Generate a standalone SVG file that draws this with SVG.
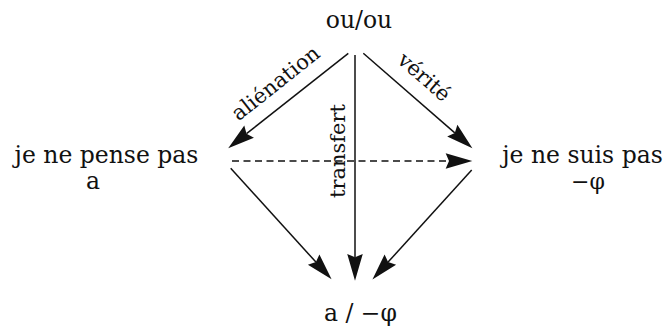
<svg xmlns="http://www.w3.org/2000/svg" width="669" height="329" viewBox="0 0 669 329">
<style>
  .node { font-family: "DejaVu Serif", "Liberation Serif", serif; font-size: 23.5px; fill: #111; text-anchor: middle; }
  .phi { font-size: 22px; }
  .lbl { font-family: "DejaVu Serif", "Liberation Serif", serif; font-size: 21px; fill: #111; text-anchor: middle; }
  .edge { stroke: #111; stroke-width: 1.5; fill: none; marker-end: url(#ah); }
  .dash { stroke-dasharray: 7 4.5; }
</style>
<defs>
  <marker id="ah" markerUnits="userSpaceOnUse" markerWidth="30" markerHeight="20" refX="3" refY="0" orient="auto" viewBox="-1 -8 27 16" overflow="visible">
    <path d="M24,0 L0,-7 L3,0 L0,7 Z" fill="#111"/>
  </marker>
</defs>
<rect width="669" height="329" fill="#fff"/>
<g id="connectors">
  <line class="edge" x1="348.3" y1="53.3" x2="246.5" y2="133.7"/>
  <line class="edge" x1="363.3" y1="53.3" x2="454.8" y2="132.9"/>
  <line class="edge" x1="355" y1="55" x2="355" y2="257.3"/>
  <line class="edge dash" x1="232" y1="161" x2="449" y2="161"/>
  <line class="edge" x1="230.7" y1="168.3" x2="315.9" y2="262.1"/>
  <line class="edge" x1="471.7" y1="170" x2="388.1" y2="262.1"/>
  <text class="lbl" x="280" y="88.7" transform="rotate(-38.5 280 88.7)">aliénation</text>
  <text class="lbl" x="419.6" y="82.4" transform="rotate(41 419.6 82.4)">vérité</text>
  <text class="lbl" x="345" y="151" transform="rotate(-90 345 151)">transfert</text>
</g>
<g id="n-ouou"><text class="node" x="359" y="28">ou/ou</text></g>
<g id="n-pense"><text class="node" x="106.5" y="163">je ne pense pas</text><text class="node" x="93" y="189">a</text></g>
<g id="n-suis"><text class="node" x="582.5" y="163">je ne suis pas</text><text class="node phi" x="588" y="189">−φ</text></g>
<g id="n-bottom"><text class="node" x="360.5" y="321">a / −φ</text></g>
</svg>
